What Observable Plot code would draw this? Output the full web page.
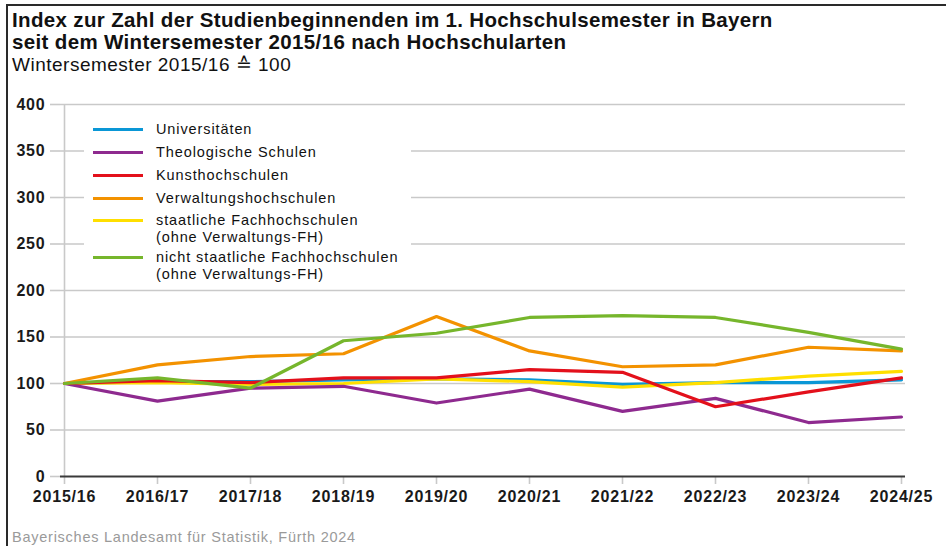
<!DOCTYPE html>
<html>
<head>
<meta charset="utf-8">
<script src="https://cdn.jsdelivr.net/npm/d3@7"></script>
<script src="https://cdn.jsdelivr.net/npm/@observablehq/plot@0.6"></script>
<style>
  html, body { margin: 0; padding: 0; background: #fff; }
  #wrap { position: relative; width: 946px; height: 546px; overflow: hidden; font-family: "Liberation Sans", Arial, Helvetica, sans-serif; color: #111; }
  #frameTop { position: absolute; left: 7px; top: 4px; width: 939px; height: 0; border-top: 2px solid #2a2a2a; }
  #frameLeft { position: absolute; left: 6px; top: 4px; width: 0; height: 542px; border-left: 2px solid #2a2a2a; }
  #t1, #t2 { position: absolute; left: 12px; font-weight: bold; font-size: 20.5px; letter-spacing: 0.35px; white-space: nowrap; }
  #t1 { top: 8px; }
  #t2 { top: 30px; }
  #sub { position: absolute; left: 12px; top: 53px; font-size: 19px; letter-spacing: 0.5px; white-space: nowrap; }
  #chart { position: absolute; left: 0; top: 80px; }
  #chart svg text { letter-spacing: 0.8px; }
  #legend { position: absolute; left: 84px; top: 112px; width: 327px; height: 174px; background: #fff; }
  .sw { position: absolute; left: 9px; width: 50px; height: 3px; }
  .lt { position: absolute; left: 72px; font-size: 14.5px; line-height: 16px; letter-spacing: 0.9px; white-space: nowrap; }
  #foot { position: absolute; left: 12px; top: 529px; font-size: 14.5px; letter-spacing: 0.75px; color: #9a9a9a; white-space: nowrap; }
</style>
</head>
<body>
<div id="wrap">
  <div id="frameTop"></div>
  <div id="frameLeft"></div>
  <div id="t1">Index zur Zahl der Studienbeginnenden im 1. Hochschulsemester in Bayern</div>
  <div id="t2">seit dem Wintersemester 2015/16 nach Hochschularten</div>
  <div id="sub">Wintersemester 2015/16 ≙ 100</div>
  <div id="chart"></div>
  <div id="legend"></div>
  <div id="foot">Bayerisches Landesamt für Statistik, Fürth 2024</div>
</div>
<script>
// ---- data ----
const years = ["2015/16","2016/17","2017/18","2018/19","2019/20","2020/21","2021/22","2022/23","2023/24","2024/25"];
const yTicks = [0, 50, 100, 150, 200, 250, 300, 350, 400];

const seriesNames = [
  "Universitäten",
  "Theologische Schulen",
  "Kunsthochschulen",
  "Verwaltungshochschulen",
  "staatliche Fachhochschulen\n(ohne Verwaltungs-FH)",
  "nicht staatliche Fachhochschulen\n(ohne Verwaltungs-FH)"
];
const seriesColors = ["#0a97d6", "#8e2a8f", "#e3101b", "#f39200", "#ffdf00", "#76b62c"];

const universitaeten     = [100, 102, 102, 104, 105, 104,  99, 101, 101, 104];
const theologisch        = [100,  81,  95,  97,  79,  94,  70,  84,  58,  64];
const kunsthochschulen   = [100, 103, 101, 106, 106, 115, 112,  75,  91, 106];
const verwaltung         = [100, 120, 129, 132, 172, 135, 118, 120, 139, 135];
const staatlicheFH       = [100, 101,  99, 100, 105, 102,  96, 101, 108, 113];
const nichtStaatlicheFH  = [100, 106,  95, 146, 154, 171, 173, 171, 155, 137];

const seriesValues = [universitaeten, theologisch, kunsthochschulen, verwaltung, staatlicheFH, nichtStaatlicheFH];
// drawing order (bottom to top)
const drawOrder = [0, 4, 1, 2, 3, 5];

const table = [];
for (const i of drawOrder) {
  years.forEach((yr, j) => table.push({year: yr, value: seriesValues[i][j], series: seriesNames[i]}));
}

const plot = Plot.plot({
  width: 946,
  height: 450,
  marginLeft: 60,
  marginRight: 41,
  marginTop: 24,
  marginBottom: 54,
  style: {fontFamily: '"Liberation Sans", Arial, Helvetica, sans-serif', background: "transparent", color: "#1a1a1a"},
  x: {type: "point", domain: years, padding: 0, label: null},
  y: {domain: [0, 400], label: null},
  color: {domain: seriesNames, range: seriesColors},
  marks: [
    Plot.ruleY(yTicks.slice(1), {stroke: "#c9c9c9", strokeWidth: 1.6}),
    Plot.ruleX([years[0]], {y1: 0, y2: 400, stroke: "#c9c9c9", strokeWidth: 1.6}),
    Plot.axisY({ticks: yTicks, tickSize: 10, tickPadding: 5, stroke: "#c9c9c9", strokeWidth: 1.6, fill: "#1a1a1a", fontSize: 16, fontWeight: "bold", label: null}),
    Plot.axisX({tickSize: 8, tickPadding: 6, stroke: "#c9c9c9", strokeWidth: 1.6, fill: "#1a1a1a", fontSize: 16, fontWeight: "bold", label: null}),
    Plot.line(table, {x: "year", y: "value", z: "series", stroke: "series", strokeWidth: 3.2}),
    Plot.ruleY([0], {stroke: "#3a3a3a", strokeWidth: 2})
  ]
});
document.getElementById("chart").appendChild(plot);

// ---- legend ----
const legend = document.getElementById("legend");
const rowTops = [9, 32, 55, 78, 100, 137];
seriesNames.forEach((name, i) => {
  const sw = document.createElement("div");
  sw.className = "sw";
  sw.style.top = (rowTops[i] + 7) + "px";
  sw.style.background = seriesColors[i];
  legend.appendChild(sw);
  name.split("\n").forEach((line, k) => {
    const lt = document.createElement("div");
    lt.className = "lt";
    lt.style.top = (rowTops[i] + k * 17) + "px";
    lt.textContent = line;
    legend.appendChild(lt);
  });
});
</script>
</body>
</html>
